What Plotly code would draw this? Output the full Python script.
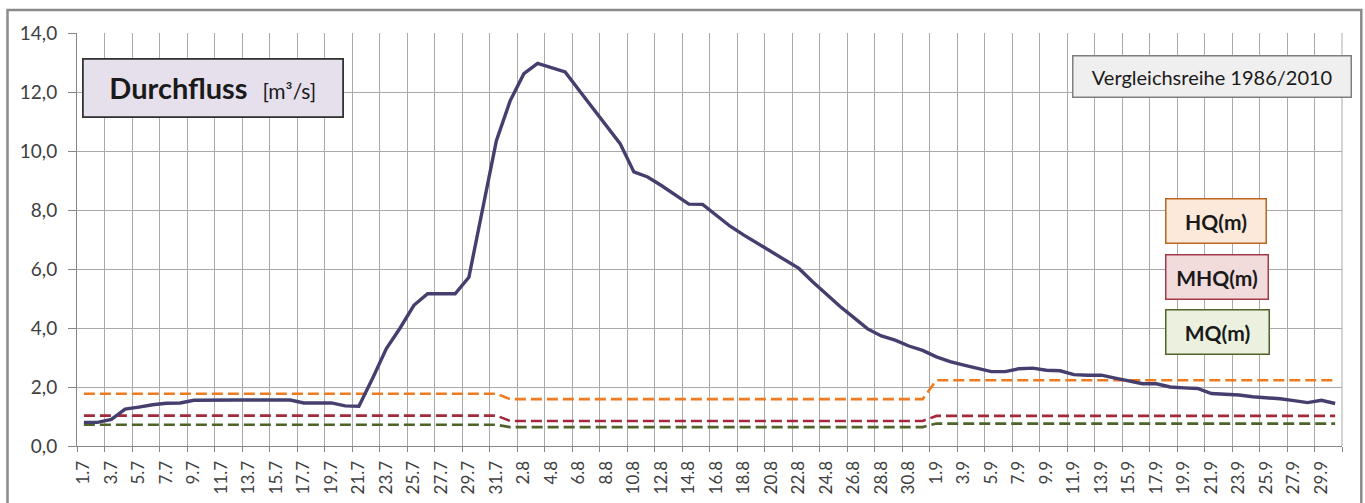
import plotly.graph_objects as go

# ---- data ----
months = [7, 8, 9]
days_in_month = [31, 31, 30]
categories = [f"{d}.{m}" for m, n in zip(months, days_in_month) for d in range(1, n + 1)]

durchfluss = [
    0.80, 0.80, 0.90, 1.25, 1.32, 1.40, 1.45, 1.46, 1.55, 1.56,
    1.56, 1.56, 1.56, 1.56, 1.56, 1.56, 1.46, 1.46, 1.46, 1.36,
    1.35, 2.30, 3.30, 4.00, 4.77, 5.16, 5.16, 5.16, 5.72, 8.08,
    10.35, 11.70, 12.62, 12.97, 12.83, 12.68, 12.07, 11.47, 10.86, 10.25,
    9.29, 9.12, 8.83, 8.52, 8.20, 8.19, 7.83, 7.45, 7.15, 6.87,
    6.59, 6.30, 6.02, 5.57, 5.14, 4.73, 4.35, 3.97, 3.73, 3.59,
    3.39, 3.24, 3.02, 2.86, 2.74, 2.62, 2.52, 2.52, 2.62, 2.64,
    2.57, 2.55, 2.42, 2.40, 2.40, 2.30, 2.20, 2.11, 2.11, 2.00,
    1.97, 1.95, 1.78, 1.75, 1.73, 1.67, 1.64, 1.60, 1.54, 1.47,
    1.55, 1.44,
]

hq_month = [1.77, 1.59, 2.23]
mhq_month = [1.03, 0.85, 1.02]
mq_month = [0.72, 0.64, 0.76]

y_ticks = [0, 2, 4, 6, 8, 10, 12, 14]


def per_day(monthly):
    out = []
    for v, n in zip(monthly, days_in_month):
        out += [v] * n
    return out


hq = per_day(hq_month)
mhq = per_day(mhq_month)
mq = per_day(mq_month)

x_idx = list(range(len(categories)))
label_pos = x_idx[::2]
label_txt = categories[::2]

FONT = "Lato, Carlito, 'Open Sans', sans-serif"
GRID = "#a9a9a9"

fig = go.Figure()

dash = "11px,5px"
fig.add_trace(go.Scatter(x=x_idx, y=mq, mode="lines", name="MQ(m)",
                         line=dict(color="#4f6228", width=2.6, dash=dash)))
fig.add_trace(go.Scatter(x=x_idx, y=mhq, mode="lines", name="MHQ(m)",
                         line=dict(color="#a3283c", width=2.6, dash=dash)))
fig.add_trace(go.Scatter(x=x_idx, y=hq, mode="lines", name="HQ(m)",
                         line=dict(color="#f07b1f", width=2.6, dash=dash)))
fig.add_trace(go.Scatter(x=x_idx, y=durchfluss, mode="lines", name="Durchfluss",
                         line=dict(color="#443f6e", width=3.4)))

fig.update_layout(
    width=1365, height=503,
    margin=dict(l=76.5, r=23.3, t=33, b=57.3, autoexpand=False),
    paper_bgcolor="white", plot_bgcolor="white",
    showlegend=False,
    separators=",.",
    font=dict(family=FONT, color="#404040"),
)

fig.update_xaxes(
    range=[-0.5, len(categories) - 0.5],
    tickmode="array", tickvals=label_pos, ticktext=label_txt,
    tickangle=-90, tickfont=dict(size=17, color="#404040"),
    ticks="", showgrid=False, zeroline=False, automargin=False,
    showline=True, linecolor="#868686", linewidth=1,
    ticklabelstandoff=7,
    minor=dict(tickmode="linear", tick0=-0.5, dtick=2, ticks="outside",
               ticklen=5, tickcolor="#868686", showgrid=True,
               gridcolor=GRID, gridwidth=1),
)

fig.update_yaxes(
    range=[0, 14], tickmode="array", tickvals=y_ticks, tickformat=".1f",
    tickfont=dict(size=19, color="#404040"),
    ticks="outside", ticklen=8, tickcolor="#868686",
    showgrid=True, gridcolor=GRID, gridwidth=1, zeroline=False,
    showline=True, linecolor="#868686", linewidth=1, automargin=False,
    ticklabelstandoff=7,
)

W = 1265.2
H = 412.7
L = 76.5
B = 445.7


def px_x(p):
    return (p - L) / W


def px_y(p):
    return (B - p) / H


fig.add_shape(type="line", xref="paper", yref="paper", x0=1, x1=1, y0=0, y1=1,
              line=dict(color=GRID, width=1))
fig.add_shape(type="rect", xref="paper", yref="paper",
              x0=px_x(7), x1=px_x(1361), y0=px_y(510), y1=px_y(10),
              line=dict(color="#8a8a8a", width=2.5), fillcolor="rgba(0,0,0,0)",
              layer="below")


def box(text, x0, y0, w, h, fill, border, size, bw=1.5):
    fig.add_annotation(
        text=text, xref="paper", yref="paper",
        x=px_x(x0), y=px_y(y0), xanchor="left", yanchor="top",
        width=w, height=h, showarrow=False, align="center", valign="middle",
        bgcolor=fill, bordercolor=border, borderwidth=bw, borderpad=0,
        font=dict(family=FONT, size=size, color="#1a1a1a"),
    )


box("<b>Durchfluss</b>  <span style='font-size:21px'>[m³/s]</span>",
    82, 58, 258, 56, "#e5e0ec", "#333333", 29, 1.8)
box("Vergleichsreihe 1986/2010", 1071.7, 55, 277, 40, "#efefef", "#7f7f7f", 20)
box("<b>HQ(m)</b>", 1165, 198, 99, 43, "#fde9d9", "#b9661f", 21)
box("<b>MHQ(m)</b>", 1165, 254, 101, 43, "#f2dcdb", "#a33a4a", 21)
box("<b>MQ(m)</b>", 1165, 309, 102, 43, "#ebf1de", "#4f6228", 21)

fig.write_html(
    "out.html",
    config={"displayModeBar": False},
    post_script="document.body.style.margin='0';document.body.style.overflow='hidden';",
)
